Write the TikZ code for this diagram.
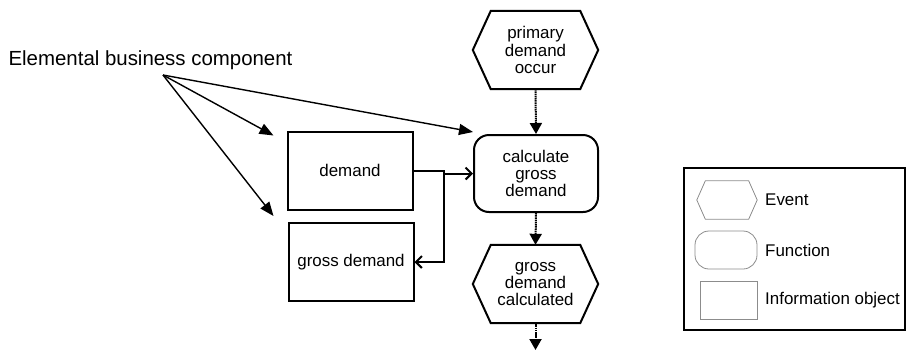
\documentclass[tikz,border=0pt]{standalone}
\usepackage{fontspec}
\setmainfont{Liberation Sans}
\usetikzlibrary{arrows.meta}
\tikzset{
  hexa/.style 2 args={append after command={\pgfextra{\draw[#1]
        (\tikzlastnode.west) -- ([xshift=#2]\tikzlastnode.north west)
        -- ([xshift=-#2]\tikzlastnode.north east) -- (\tikzlastnode.east)
        -- ([xshift=-#2]\tikzlastnode.south east)
        -- ([xshift=#2]\tikzlastnode.south west) -- cycle;}}},
  event/.style={hexa={line width=2bp}{18bp}, minimum width=125bp, minimum height=78bp,
    inner sep=0pt, align=center},
  func/.style={draw, line width=2bp, rounded corners=15bp, minimum width=124bp,
    minimum height=77bp, inner sep=0pt, align=center},
  info/.style={draw, line width=2bp, minimum width=125bp, minimum height=78bp,
    inner sep=0pt, align=center},
  lgevent/.style={hexa={gray!90, line width=0.8bp}{8.5bp}, minimum width=60bp, minimum height=38bp},
  lgfunc/.style={draw=gray!90, line width=0.8bp, rounded corners=14bp, minimum width=62bp, minimum height=38bp},
  lginfo/.style={draw=gray!90, line width=0.8bp, minimum width=57bp, minimum height=38bp},
  flow/.style={line width=2bp, dash pattern=on 1.5bp off 0.7bp, -{Triangle[length=11bp,width=12bp]}},
  assign/.style={line width=1.4bp, -{Triangle[length=14bp,width=11bp]}},
  link/.style={line width=2bp, -{Straight Barb[length=6bp,width=12bp]}}
}
\begin{document}
\begin{tikzpicture}[x=1bp, y=-1bp, every node/.style={font=\fontsize{17}{17.5}\selectfont}]
  \useasboundingbox (0,0) rectangle (907,350);
  % process chain
  \node[event] (pdo) at (535.5,50) {primary\\demand\\occur};
  \node[func] (cgd) at (536,173.5) {calculate\\gross\\demand};
  \node[event] (gdc) at (535.5,284) {gross\\demand\\calculated};
  \coordinate (out) at (535.5,350);
  \draw[flow] (pdo.south) -- (cgd.north);
  \draw[flow] (cgd.south) -- (gdc.north);
  \draw[flow] (gdc.south) -- (out);
  % information objects
  \node[info] (dem) at (350,170.5) {demand};
  \node[info] (gdem) at (351,262) {gross demand};
  \coordinate (jn) at ([xshift=30bp]dem.east);
  \draw[link] (dem.east) -- (jn) -- (jn |- gdem.east) -- (gdem.east);
  \draw[link] (jn |- cgd.west) -- (cgd.west);
  % elemental business component
  \node[font=\fontsize{20.5}{24}\selectfont, anchor=base] (ebc) at (150.5,65) {Elemental business component};
  \coordinate (src) at (163,75);
  \draw[assign] (src) -- ([shift={(-13,5)}]dem.north west);
  \draw[assign] (src) -- ([shift={(-14,-6)}]gdem.north west);
  \draw[assign] (src) -- ([yshift=2bp]cgd.north west);
  % legend
  \node[draw, line width=1.4bp, minimum width=221bp, minimum height=162bp] (leg) at (794.5,249) {};
  \node[lgevent] (lgev) at (727,200) {};
  \node[lgfunc] (lgfn) at (726,250) {};
  \node[lginfo] (lgin) at (728.5,300) {};
  \node[anchor=west, inner sep=0pt] (lgevt) at (765,200) {Event};
  \node[anchor=west, inner sep=0pt] (lgfnt) at (765,250) {Function};
  \node[anchor=west, inner sep=0pt] (lgint) at (765,300) {Information object};
\end{tikzpicture}
\end{document}
